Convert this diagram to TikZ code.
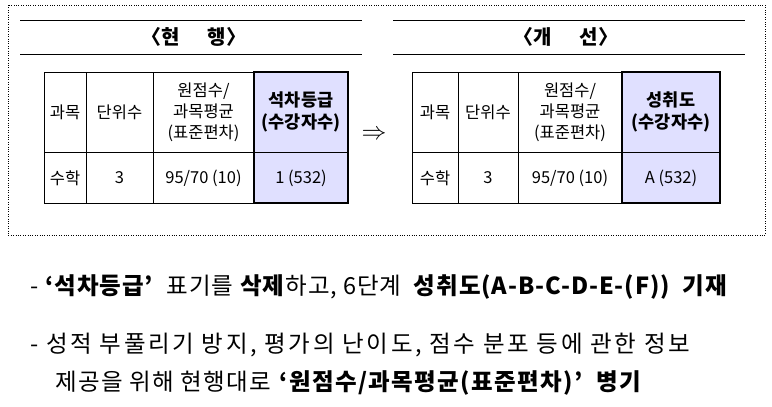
\documentclass[tikz,border=0pt]{standalone}
\usepackage{fontspec}
\setmainfont{Noto Sans CJK KR}
\begin{document}
\begin{tikzpicture}[x=1pt,y=-1pt,
  cell/.style={inner sep=0pt,align=center,font=\fontsize{16.5}{21}\selectfont},
  ttl/.style={font=\fontsize{20}{22}\selectfont\bfseries},
  bul/.style={anchor=west,inner sep=0pt,font=\fontsize{23.5}{26}\selectfont}]
\useasboundingbox (0,0) rectangle (772,407);
\draw[dotted] (8,5) rectangle (765,235);
% left
\draw (20,20) -- (362,20) (20,54) -- (362,54);
\node[ttl] (t1) at (194,37) {〈현\quad\, 행〉};
\fill[blue!12] (254,72) rectangle (348,203);
\draw (44,72) rectangle (348,203);
\draw (86,72) -- (86,203) (153,72) -- (153,203) (44,152) -- (348,152);
\draw[line width=1.6pt] (254,72) rectangle (348,203);
\node[cell] (a1) at (65,112) {과목};
\node[cell] (a2) at (119.5,112) {단위수};
\node[cell] (a3) at (203.5,112) {원점수/\\과목평균\\(표준편차)};
\node[cell,font=\fontsize{17.5}{22}\selectfont\bfseries] (a4) at (301,112) {석차등급\\(수강자수)};
\node[cell] (b1) at (65,178) {수학};
\node[cell] (b2) at (119.5,178) {3};
\node[cell] (b3) at (203.5,178) {95/70 (10)};
\node[cell] (b4) at (301,178) {1 (532)};
\node[font=\fontsize{24}{26}\selectfont] (arr) at (374,135) {$\Rightarrow$};
% right
\draw (393,20) -- (745,20) (393,54) -- (745,54);
\node[ttl] (t2) at (566,37) {〈개\quad\, 선〉};
\fill[blue!12] (622,72) rectangle (720,203);
\draw (412,72) rectangle (720,203);
\draw (458,72) -- (458,203) (518,72) -- (518,203) (412,152) -- (720,152);
\draw[line width=1.6pt] (622,72) rectangle (720,203);
\node[cell] (c1) at (435,112) {과목};
\node[cell] (c2) at (488,112) {단위수};
\node[cell] (c3) at (570,112) {원점수/\\과목평균\\(표준편차)};
\node[cell,font=\fontsize{17.5}{22}\selectfont\bfseries] (c4) at (671,112) {성취도\\(수강자수)};
\node[cell] (d1) at (435,178) {수학};
\node[cell] (d2) at (488,178) {3};
\node[cell] (d3) at (570,178) {95/70 (10)};
\node[cell] (d4) at (671,178) {A (532)};
% bullets
\node[bul] (l1) at (30,287) {\addfontfeatures{LetterSpace=4}- \textbf{‘석차등급’}\ \ 표기를 \textbf{삭제}하고,\ 6단계\ \ \textbf{성취도(A-B-C-D-E-(F))\ \ 기재}};
\node[bul] (l2) at (30,345) {\addfontfeatures{LetterSpace=11}- 성적 부풀리기 방지, 평가의 난이도, 점수 분포 등에 관한 정보};
\node[bul] (l3) at (55,383) {\addfontfeatures{LetterSpace=6}제공을 위해 현행대로 \textbf{‘원점수/과목평균(표준편차)’\ \ 병기}};
\end{tikzpicture}
\end{document}
